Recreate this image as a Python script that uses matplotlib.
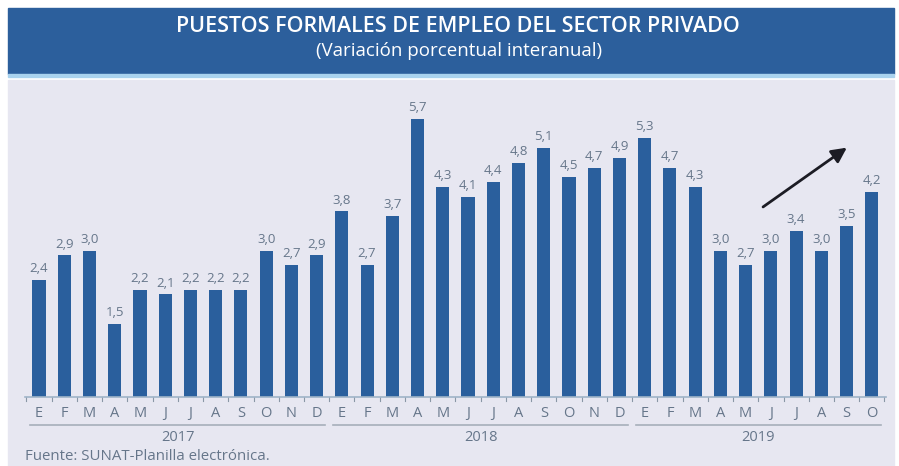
import numpy as np
import matplotlib.pyplot as plt
from matplotlib.patches import Rectangle

plt.rcParams['font.family'] = ['Open Sans', 'DejaVu Sans']

months = ["E", "F", "M", "A", "M", "J", "J", "A", "S", "O", "N", "D"]
years = ["2017", "2018", "2019"]
months_per_year = [12, 12, 10]

v2017 = [2.4, 2.9, 3.0, 1.5, 2.2, 2.1, 2.2, 2.2, 2.2, 3.0, 2.7, 2.9]
v2018 = [3.8, 2.7, 3.7, 5.7, 4.3, 4.1, 4.4, 4.8, 5.1, 4.5, 4.7, 4.9]
v2019 = [5.3, 4.7, 4.3, 3.0, 2.7, 3.0, 3.4, 3.0, 3.5, 4.2]

values = v2017 + v2018 + v2019
labels = []
for n in months_per_year:
    labels += months[:n]

W, H = 899, 466
fig = plt.figure(figsize=(W / 100, H / 100), dpi=100)
fig.patch.set_facecolor("white")

def px(x0, y0, w, h):
    # pixel box (top-left origin) -> figure fraction
    return (x0 / W, 1 - (y0 + h) / H, w / W, h / H)

bar_col = "#2a5f9d"
txt_col = "#66768a"
panel_col = "#e7e7f1"

# title banner and background panel
x, y, w, h = px(8, 8, 886, 66)
fig.patches.append(Rectangle((x, y), w, h, transform=fig.transFigure, color="#2c5f9c", zorder=-5))
x, y, w, h = px(8, 74, 886, 3)
fig.patches.append(Rectangle((x, y), w, h, transform=fig.transFigure, color="#a9d2ee", zorder=-5))
x, y, w, h = px(8, 80, 886, 386)
fig.patches.append(Rectangle((x, y), w, h, transform=fig.transFigure, color=panel_col, zorder=-5))

fig.text(458 / W, 1 - 26 / H, "PUESTOS FORMALES DE EMPLEO DEL SECTOR PRIVADO", color="white",
         fontsize=15.5, fontweight="semibold", ha="center", va="center")
fig.text(459 / W, 1 - 51 / H, "(Variación porcentual interanual)", color="white",
         fontsize=13.5, ha="center", va="center")

ax = fig.add_axes(px(10, 86, 880, 311))
ax.set_zorder(2)
ax.set_facecolor("none")
ax.set_xlim(-1.15, 33.72)
ax.set_ylim(0, 6.37)
ax.axis("off")

xs = np.arange(len(values))
ax.bar(xs, values, width=0.52, color=bar_col, zorder=3)
for xi, v in zip(xs, values):
    ax.text(xi, v + 0.1, f"{v:.1f}".replace(".", ","), ha="center", va="bottom",
            fontsize=9.5, color=txt_col)

# baseline and ticks between months
ax.plot([-0.55, len(values) - 0.45], [0, 0], color="#9fb4c8", lw=1.2, clip_on=False, zorder=4)
for b in np.arange(-0.5, len(values), 1.0):
    ax.plot([b, b], [0, -0.08], color="#8a97a6", lw=0.8, clip_on=False)

for xi, lab in zip(xs, labels):
    ax.text(xi, -0.34, lab, ha="center", va="center", fontsize=10.5, color=txt_col)

start = 0
for yr, n in zip(years, months_per_year):
    ax.plot([start - 0.35, start + n - 0.65], [-0.58, -0.58], color="#a7afba", lw=1.2, clip_on=False)
    ax.text(start + (n - 1) / 2, -0.83, yr, ha="center", va="center", fontsize=10.5, color=txt_col)
    start += n

ax.annotate("", xy=(32.1, 5.14), xytext=(28.6, 3.86),
            arrowprops=dict(arrowstyle="-|>,head_length=0.9,head_width=0.45", color="#1c1c24", lw=2))

fig.text(25 / W, 1 - 457 / H, "Fuente: SUNAT-Planilla electrónica.", fontsize=10.8,
         color=txt_col, ha="left", va="center")

fig.savefig("out.png", dpi=100)
